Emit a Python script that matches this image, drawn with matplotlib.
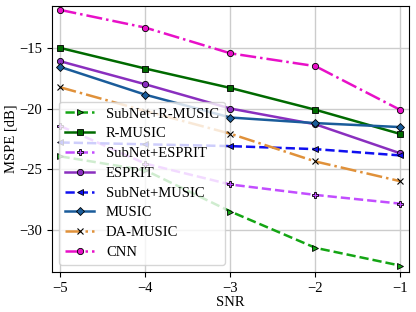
import numpy as np
import matplotlib
matplotlib.use("Agg")
import matplotlib.pyplot as plt

plt.rcParams['font.family'] = ['Liberation Serif', 'DejaVu Serif']
plt.rcParams['mathtext.fontset'] = 'stix'
plt.rcParams['font.size'] = 10.5

snr = [-5, -4, -3, -2, -1]

subnet_rmusic = [-23.95, -25.1, -28.5, -31.5, -32.97]
rmusic = [-15.0, -16.7, -18.3, -20.1, -22.1]
subnet_esprit = [-21.45, -24.55, -26.27, -27.13, -27.85]
esprit = [-16.1, -18.0, -20.0, -21.3, -23.7]
subnet_music = [-22.8, -22.95, -23.1, -23.35, -23.87]
music = [-16.57, -18.86, -20.74, -21.2, -21.53]
da_music = [-18.25, -20.2, -22.08, -24.37, -26.0]
cnn = [-11.86, -13.32, -15.44, -16.5, -20.12]

fig = plt.figure(figsize=(4.16, 3.12), dpi=100)
ax = fig.add_axes([0.125, 0.128, 0.858, 0.854])

lw = 1.8
ms = 4.5
ax.plot(snr, subnet_rmusic, '--', marker='>', color='#14a514', lw=lw, ms=ms, mec='k', mew=0.6, label='SubNet+R-MUSIC')
ax.plot(snr, rmusic, '-', marker='s', color='#006a00', lw=lw, ms=ms, mec='k', mew=0.6, label='R-MUSIC')
ax.plot(snr, subnet_esprit, '--', marker='P', color='#c24dff', lw=lw, ms=ms, mec='k', mew=0.6, label='SubNet+ESPRIT')
ax.plot(snr, esprit, '-', marker='o', color='#8a2fbf', lw=lw, ms=ms, mec='k', mew=0.6, label='ESPRIT')
ax.plot(snr, subnet_music, '--', marker='<', color='#1010f0', lw=lw, ms=ms, mec='k', mew=0.6, label='SubNet+MUSIC')
ax.plot(snr, music, '-', marker='D', color='#1a5c9a', lw=lw, ms=ms, mec='k', mew=0.6, label='MUSIC')
ax.plot(snr, da_music, '-.', marker='x', color='#e0913a', lw=lw, ms=ms, mec='k', mew=0.8, label='DA-MUSIC')
ax.plot(snr, cnn, '-.', marker='o', color='#e810c8', lw=lw, ms=ms, mec='k', mew=0.6, label='CNN')

ax.set_xlim(-5.1, -0.9)
ax.set_ylim(-33.5, -11.5)
ax.set_xticks(snr)
ax.set_yticks([-30, -25, -20, -15])
ax.grid(True, color='#cccccc', lw=1.0)
ax.set_xlabel('SNR', labelpad=1)
ax.set_ylabel('MSPE [dB]', labelpad=1)
ax.legend(loc='lower left', fontsize=10.5, labelspacing=0.45)

fig.savefig('out.png', dpi=100)
